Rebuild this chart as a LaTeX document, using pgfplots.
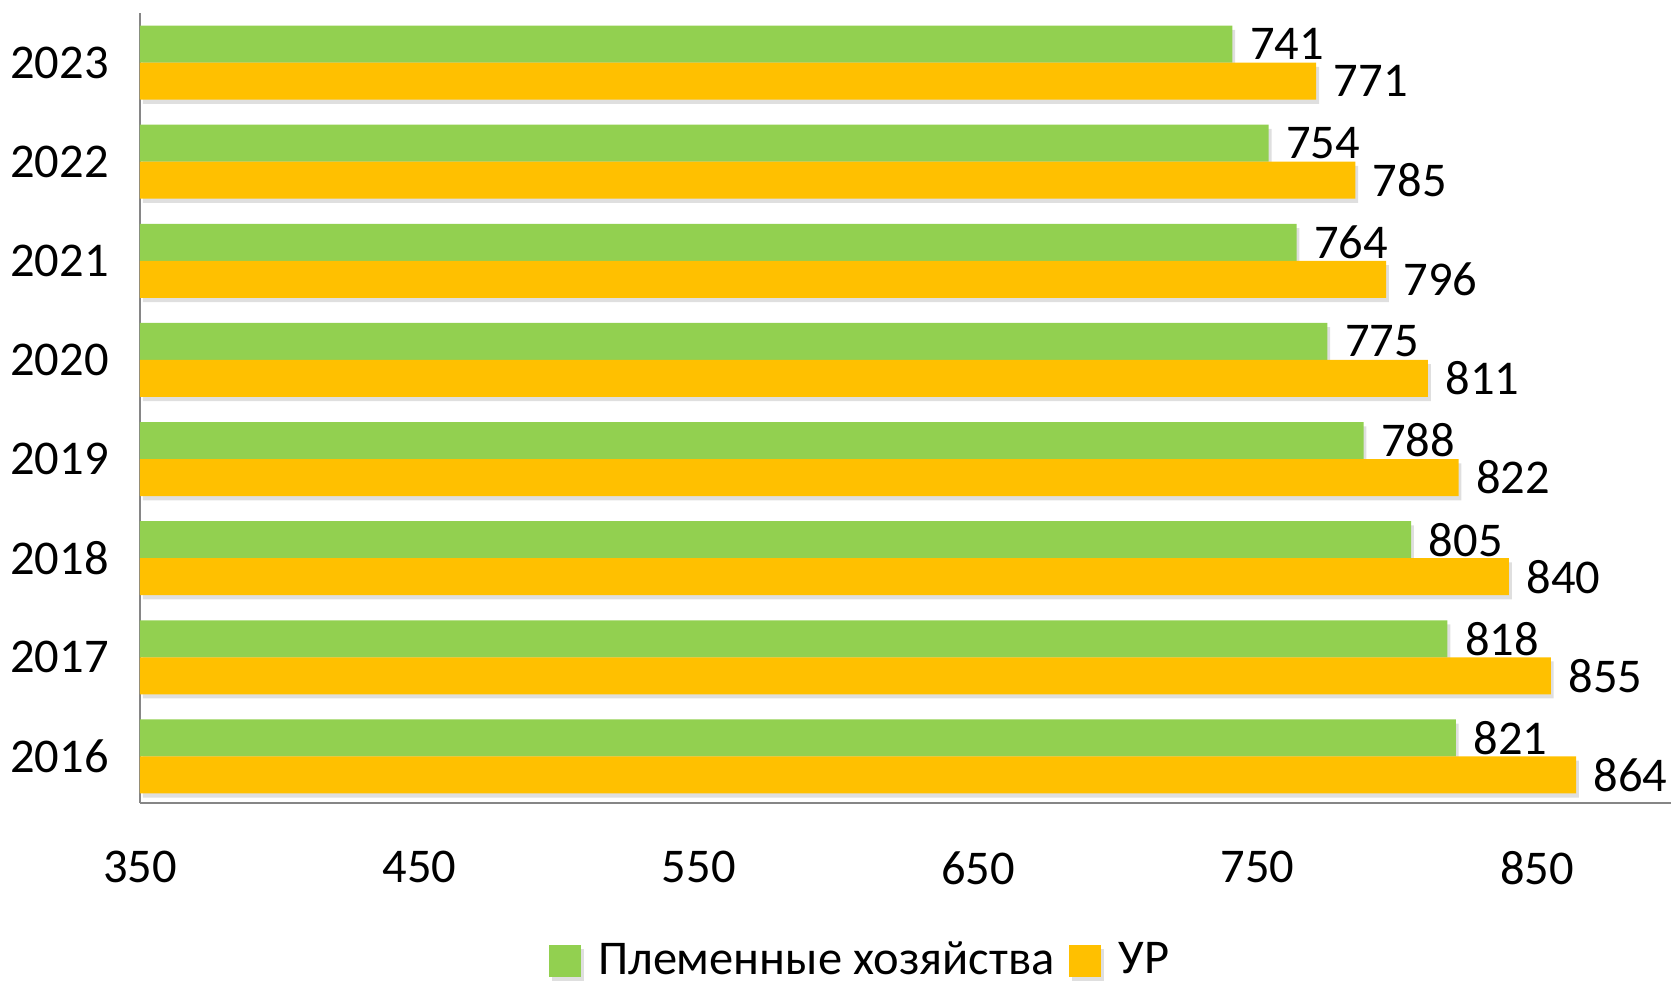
\documentclass[border=0pt]{standalone}
\usepackage{fontspec}
\setmainfont{Carlito}
\usepackage{pgfplots}
\pgfplotsset{compat=1.18}
\usetikzlibrary{shadows}
\definecolor{plgreen}{HTML}{92D050}
\definecolor{plorange}{HTML}{FFC000}
\definecolor{axgray}{HTML}{868686}
\begin{document}
\begin{tikzpicture}
\begin{axis}[
    name=ax,
    scale only axis,
    width=15.31cm,
    height=7.90cm,
    xbar=0pt,
    bar width=0.37cm,
    xmin=350, xmax=898,
    ymin=2015.53, ymax=2023.5,
    xtick={350,450,...,850},
    ytick={2016,...,2023},
    /pgf/number format/1000 sep={},
    /pgf/number format/assume math mode=true,
    font=\fontsize{13.8}{16}\selectfont,
    axis x line*=bottom,
    axis y line*=left,
    axis line style={-, draw=axgray, line width=0.6pt},
    major tick length=0pt,
    xticklabel style={yshift=-0.36cm},
    yticklabel style={xshift=-0.19cm},
    nodes near coords,
    nodes near coords style={anchor=west, xshift=1.5pt, font=\fontsize{13.8}{16}\selectfont},
    every node near coord/.append style={/pgf/number format/assume math mode=true},
    legend style={
        at={(0.472,-0.200)},
        anchor=center,
        draw=none,
        legend columns=2,
        /tikz/every even column/.append style={column sep=0.08cm},
    },
    legend image code/.code={\fill[#1] (0cm,-0.16cm) rectangle (0.32cm,0.16cm); \path (0.42cm,0);},
]
    % Племенные хозяйства
    \addplot[fill=plgreen, draw=none, bar shift=0.185cm,
        drop shadow={shadow xshift=0.8pt, shadow yshift=-1.2pt, opacity=0.25}] coordinates {
        (821,2016) (818,2017) (805,2018) (788,2019)
        (775,2020) (764,2021) (754,2022) (741,2023)
    };
    % УР
    \addplot[fill=plorange, draw=none, bar shift=-0.185cm,
        drop shadow={shadow xshift=0.8pt, shadow yshift=-1.2pt, opacity=0.25}] coordinates {
        (864,2016) (855,2017) (840,2018) (822,2019)
        (811,2020) (796,2021) (785,2022) (771,2023)
    };
    \legend{Племенные хозяйства, УР}
\end{axis}
\pgfresetboundingbox
\path[use as bounding box] ([xshift=-1.40cm,yshift=-1.82cm]ax.south west) rectangle ++(16.71cm,9.85cm);
\end{tikzpicture}
\end{document}
